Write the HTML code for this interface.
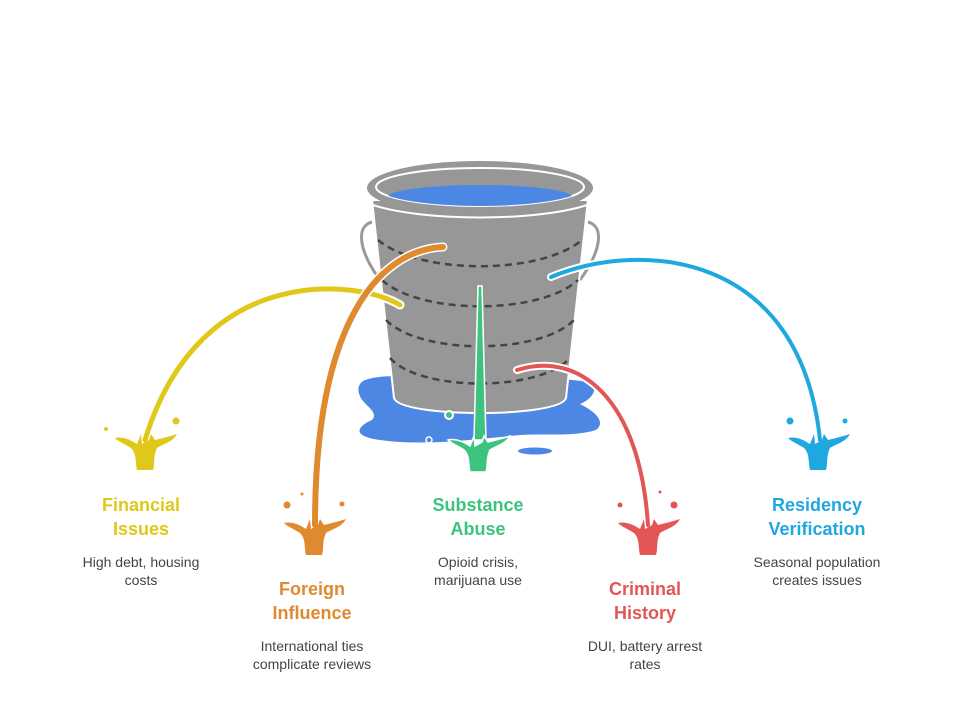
<!DOCTYPE html>
<html><head><meta charset="utf-8"><style>
body{margin:0;background:#fff;width:960px;height:709px;overflow:hidden;font-family:"Liberation Sans",sans-serif}
.t{position:absolute;width:200px;text-align:center;font-weight:bold;font-size:18px;line-height:24px}
.d{position:absolute;width:200px;text-align:center;font-size:14px;line-height:18px;color:#444}
</style></head><body>
<svg width="960" height="709" style="position:absolute;left:0;top:0">
<defs>
<path id="sp" d="M-30,8 C-22,6 -14,10 -8,14 L-4,4 L-3,14 L4,10 L6,4 L10,10 C18,8 26,6 32,4 C28,12 18,14 12,18 C8,26 10,34 8,40 L-8,40 C-10,32 -8,24 -14,18 C-20,14 -26,12 -30,8Z"/>
<clipPath id="ic"><ellipse cx="480" cy="187" rx="104" ry="19"/></clipPath>
</defs>
<path d="M365,380 C390,372 410,380 430,376 C480,372 540,376 590,382 C600,390 590,400 580,404 C596,412 606,422 596,430 C570,438 540,432 510,436 C470,440 420,446 380,440 C350,436 358,426 372,420 C380,412 362,404 360,396 C356,388 360,382 365,380Z" fill="#4D87E4"/>
<ellipse cx="535" cy="451" rx="17" ry="3.5" fill="#4D87E4"/>
<path d="M372,222 C356,226 358,250 380,280" stroke="#999" stroke-width="3" fill="none"/>
<path d="M588,222 C604,226 602,250 580,280" stroke="#999" stroke-width="3" fill="none"/>
<path d="M372,200 L588,200 L566,398 C560,418 400,418 394,398 Z" fill="#979797" stroke="#fff" stroke-width="2"/>
<g stroke="#444" stroke-width="2.5" stroke-dasharray="7,5" fill="none">
<path d="M378,240 C420,275 540,275 582,240"/>
<path d="M382,280 C420,315 540,315 578,280"/>
<path d="M386,320 C420,355 540,355 574,320"/>
<path d="M390,358 C420,392 540,392 570,358"/>
</g>
<ellipse cx="480" cy="188" rx="113" ry="27" fill="#979797"/>
<ellipse cx="480" cy="187" rx="104" ry="19" fill="none" stroke="#fff" stroke-width="2"/>
<ellipse cx="480" cy="197" rx="92" ry="12" fill="#4D87E4" clip-path="url(#ic)"/>
<path d="M370,204 C420,222 540,222 590,204" stroke="#fff" stroke-width="2" fill="none"/>
<circle cx="449" cy="415" r="4" fill="#3CC47F" stroke="#fff" stroke-width="2"/>
<circle cx="429" cy="440" r="3" fill="none" stroke="#fff" stroke-width="1.5"/>
<g fill="none" stroke-linecap="round">
<path d="M400,305 C360,280 200,260 145,440" stroke="#fff" stroke-width="9"/>
<path d="M400,305 C360,280 200,260 145,440" stroke="#E0C81A" stroke-width="5"/>
<path d="M443,247 C380,250 315,320 315,525" stroke="#fff" stroke-width="9"/>
<path d="M443,247 C380,250 315,320 315,525" stroke="#E08A30" stroke-width="6"/>
<path d="M551,277 C640,240 800,250 820,440" stroke="#fff" stroke-width="8"/>
<path d="M551,277 C640,240 800,250 820,440" stroke="#1FA8DF" stroke-width="4"/>
<path d="M517,370 C580,350 640,400 648,525" stroke="#fff" stroke-width="8"/>
<path d="M517,370 C580,350 640,400 648,525" stroke="#E35656" stroke-width="4"/>
</g>
<path d="M478,286 L482,286 L486,440 L474,440Z" fill="#3CC47F" stroke="#fff" stroke-width="1.5"/>
<use href="#sp" x="145" y="430" fill="#E0C81A"/>
<circle cx="106" cy="429" r="2" fill="#E0C81A"/><circle cx="176" cy="421" r="3.5" fill="#E0C81A"/>
<use href="#sp" x="314" y="515" fill="#E08A30"/>
<circle cx="287" cy="505" r="3.5" fill="#E08A30"/><circle cx="342" cy="504" r="2.5" fill="#E08A30"/><circle cx="302" cy="494" r="1.5" fill="#E08A30"/>
<use href="#sp" x="478" y="432" fill="#3CC47F" stroke="#fff" stroke-width="1.5"/>
<use href="#sp" x="648" y="515" fill="#E35656"/>
<circle cx="620" cy="505" r="2.5" fill="#E35656"/><circle cx="674" cy="505" r="3.5" fill="#E35656"/><circle cx="660" cy="492" r="1.5" fill="#E35656"/>
<use href="#sp" x="818" y="430" fill="#1FA8DF"/>
<circle cx="790" cy="421" r="3.5" fill="#1FA8DF"/><circle cx="845" cy="421" r="2.5" fill="#1FA8DF"/>
</svg>
<div class="t" style="left:41px;top:493px;color:#E0C81A">Financial<br>Issues</div>
<div class="d" style="left:41px;top:553px">High debt, housing<br>costs</div>
<div class="t" style="left:212px;top:577px;color:#E08A30">Foreign<br>Influence</div>
<div class="d" style="left:212px;top:637px">International ties<br>complicate reviews</div>
<div class="t" style="left:378px;top:493px;color:#3CC47F">Substance<br>Abuse</div>
<div class="d" style="left:378px;top:553px">Opioid crisis,<br>marijuana use</div>
<div class="t" style="left:545px;top:577px;color:#E35656">Criminal<br>History</div>
<div class="d" style="left:545px;top:637px">DUI, battery arrest<br>rates</div>
<div class="t" style="left:717px;top:493px;color:#1FA8DF">Residency<br>Verification</div>
<div class="d" style="left:717px;top:553px">Seasonal population<br>creates issues</div>
</body></html>
